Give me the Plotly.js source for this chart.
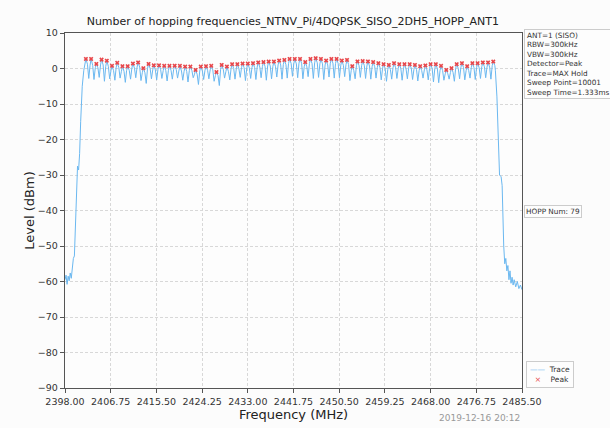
<!DOCTYPE html>
<html>
<head>
<meta charset="utf-8">
<script src="https://cdn.plot.ly/plotly-3.0.1.min.js"></script>
<style>html,body{margin:0;padding:0;background:#fcfcfc;}#chart{width:610px;height:428px;}</style>
</head>
<body>
<div id="chart"></div>
<script>
// ---- data ----
const peakFreq = [2402,2403,2404,2405,2406,2407,2408,2409,2410,2411,2412,2413,2414,2415,2416,2417,2418,2419,2420,
  2421,2422,2423,2424,2425,2426,2427,2428,2429,2430,2431,2432,2433,2434,2435,2436,2437,2438,2439,2440,
  2441,2442,2443,2444,2445,2446,2447,2448,2449,2450,2451,2452,2453,2454,2455,2456,2457,2458,2459,2460,2461,
  2462,2463,2464,2465,2466,2467,2468,2469,2470,2471,2472,2473,2474,2475,2476,2477,2478,2479,2480];
const peakLevel = [2.7,2.7,1.3,2.5,2.2,0.75,1.6,0.65,0.65,1.4,1.7,0.1,1.3,0.9,0.9,0.75,0.75,0.8,0.75,
  0.55,0.55,-0.4,0.55,0.65,0.75,-1.0,1.0,0.55,1.2,1.2,1.4,1.4,1.5,1.7,1.8,1.95,1.95,2.25,2.4,
  2.7,2.7,2.7,1.8,2.7,2.9,2.7,2.25,2.7,2.7,2.25,2.4,0.65,2.0,2.1,2.0,1.8,1.5,1.2,1.0,1.5,
  1.2,1.2,1.2,1.0,0.65,0.85,1.2,1.2,0.75,-0.4,0.1,1.2,1.5,0.65,1.5,1.5,1.7,1.7,1.95];
// secondary hump just after each peak
const shoulderLevel = [1.2,0.9,0.2,1.0,0.6,-0.6,0.3,-0.8,-0.5,0.1,0.4,-1.2,0.0,-0.4,-0.2,-0.6,-0.5,-0.3,-0.7,
  -0.8,-0.6,-1.6,-0.7,-0.5,-0.4,-2.0,-0.2,-0.9,0.0,-0.1,0.2,0.1,0.3,0.4,0.6,0.7,0.6,1.0,1.1,
  1.4,1.3,1.5,0.5,1.4,1.6,1.3,1.0,1.5,1.4,0.9,1.1,-0.6,0.8,0.9,0.7,0.5,0.3,0.0,-0.3,0.2,
  0.0,-0.1,0.1,-0.3,-0.6,-0.4,0.0,-0.1,-0.6,-1.5,-1.1,0.0,0.3,-0.6,0.3,0.2,0.5,0.4,0.8];
// dips between neighbouring channels
const valleyLevel = [-2.8,-3.1,-2.5,-3.6,-2.9,-3.3,-2.7,-3.9,-3.0,-2.6,-3.4,-4.2,-2.9,-3.2,-2.8,-3.5,-3.0,-2.7,-3.3,-3.8,
  -2.6,-4.5,-3.1,-2.9,-3.6,-4.8,-2.7,-3.2,-3.0,-2.5,-3.4,-2.8,-3.1,-2.6,-3.3,-2.9,-2.4,-3.0,-2.7,-2.2,
  -2.6,-2.9,-2.3,-2.8,-2.5,-3.1,-2.4,-2.7,-2.6,-2.3,-3.4,-2.9,-2.5,-2.8,-3.0,-2.7,-3.2,-3.6,-3.0,-2.8,
  -3.3,-2.9,-3.1,-3.5,-2.7,-3.2,-3.8,-4.0,-3.3,-3.0,-3.6,-2.9,-3.2,-2.7,-3.1,-2.8,-2.6,-3.0];
const leftEdgeFreq = [2398.0,2398.2,2398.4,2398.6,2398.8,2399.0,2399.2,2399.4,2399.6,2399.8,2400.0,2400.2,2400.4,2400.6,2400.8,2401.0,2401.3,2401.6];
const leftEdgeLevel = [-59.5,-58.2,-60.8,-58.5,-59.8,-57.6,-59.1,-56.0,-53.5,-52.8,-44.0,-30.0,-27.5,-28.6,-24.0,-15.0,-5.0,-0.5];
const rightEdgeFreq = [2480.4,2480.7,2481.0,2481.2,2481.5,2481.7,2482.0,2482.2,2482.4,2482.6,2482.8,2483.0,2483.2,2483.4,2483.6,2483.8,2484.0,2484.3,2484.6,2484.9,2485.2,2485.5];
const rightEdgeLevel = [-0.5,-8.0,-24.0,-30.0,-30.5,-33.0,-50.0,-55.0,-53.5,-57.0,-55.5,-59.5,-57.0,-60.5,-58.8,-61.0,-59.5,-61.5,-60.0,-62.0,-61.0,-62.3];
const xTickVals = [2398.00,2406.75,2415.50,2424.25,2433.00,2441.75,2450.50,2459.25,2468.00,2476.75,2485.50];
const xTickText = ["2398.00","2406.75","2415.50","2424.25","2433.00","2441.75","2450.50","2459.25","2468.00","2476.75","2485.50"];
const infoLines = ["ANT=1 (SISO)","RBW=300kHz","VBW=300kHz","Detector=Peak","Trace=MAX Hold","Sweep Point=10001","Sweep Time=1.333ms"];
const hoppText = "HOPP Num: 79";
const stamp = "2019-12-16 20:12";
const seriesNames = ["Trace", "Peak"];

// ---- assemble trace from the read values ----
const tx = [...leftEdgeFreq], ty = [...leftEdgeLevel];
for (let i = 0; i < peakFreq.length; i++) {
  tx.push(peakFreq[i]); ty.push(peakLevel[i]);
  tx.push(peakFreq[i] + 0.3); ty.push(shoulderLevel[i]);
  if (i < valleyLevel.length && i < peakFreq.length - 1) {
    tx.push(peakFreq[i] + 0.55); ty.push(valleyLevel[i]);
    tx.push(peakFreq[i] + 0.8); ty.push(shoulderLevel[i + 1]);
  }
}
tx.push(...rightEdgeFreq); ty.push(...rightEdgeLevel);

const traceColor = '#6bb8f0', peakColor = '#e8474b';
const font = "DejaVu Sans, Liberation Sans, sans-serif";
const data = [
  {x: tx, y: ty, type: 'scatter', mode: 'lines', name: seriesNames[0],
   line: {color: traceColor, width: 1}, showlegend: false},
  {x: peakFreq, y: peakLevel, type: 'scatter', mode: 'markers', name: seriesNames[1],
   marker: {symbol: 'x', size: 4, color: peakColor}, showlegend: false}
];
const nb = '\u00a0';
const legendText =
  '<span style="color:' + traceColor + '">——</span>' + nb + nb + seriesNames[0] + '<br>' +
  nb + nb + '<span style="color:' + peakColor + '">×</span>' + nb + nb + nb + nb + seriesNames[1];
const layout = {
  width: 610, height: 428,
  margin: {l: 65, r: 88, t: 33, b: 40},
  paper_bgcolor: '#fcfcfc', plot_bgcolor: '#fdfdfd',
  font: {family: font, size: 9, color: '#333'},
  title: {text: 'Number of hopping frequencies_NTNV_Pi/4DQPSK_SISO_2DH5_HOPP_ANT1',
          font: {size: 11, color: '#222'}, x: 0.48, xanchor: 'center', y: 0.95, yanchor: 'middle'},
  xaxis: {range: [2398, 2485.5], tickmode: 'array', tickvals: xTickVals, ticktext: xTickText,
          showline: true, mirror: true, linecolor: '#555', linewidth: 1.2,
          ticks: 'outside', ticklen: 4, tickcolor: '#555',
          showgrid: true, gridcolor: '#d8d8d8', griddash: '3px,2px', zeroline: false,
          tickfont: {size: 9.5, color: '#333'},
          title: {text: 'Frequency (MHz)', font: {size: 13, color: '#222'}, standoff: 4}},
  yaxis: {range: [-90, 10], dtick: 10, tick0: 0,
          showline: true, mirror: true, linecolor: '#555', linewidth: 1.2,
          ticks: 'outside', ticklen: 4, tickcolor: '#555',
          showgrid: true, gridcolor: '#d8d8d8', griddash: '3px,2px', zeroline: false,
          tickfont: {size: 9.5, color: '#333'},
          title: {text: 'Level (dBm)', font: {size: 13, color: '#222'}, standoff: 0}},
  showlegend: false,
  annotations: [
    {xref: 'paper', yref: 'paper', x: 1.005, y: 1.01, xanchor: 'left', yanchor: 'top', align: 'left',
     text: infoLines.join('<br>'), showarrow: false, font: {size: 7.3, color: '#333'},
     bgcolor: '#fdfdfd', bordercolor: '#ccc', borderwidth: 1, borderpad: 1},
    {xref: 'paper', yref: 'paper', x: 1.005, y: 0.497, xanchor: 'left', yanchor: 'middle', align: 'left',
     text: hoppText, showarrow: false, font: {size: 7.3, color: '#333'},
     bgcolor: '#fdfdfd', bordercolor: '#ccc', borderwidth: 1, borderpad: 1},
    {xref: 'paper', yref: 'paper', x: 1.008, y: 0.0, xanchor: 'left', yanchor: 'bottom', align: 'left',
     text: legendText, showarrow: false, font: {size: 7.5, color: '#333'},
     bgcolor: '#fdfdfd', bordercolor: '#ccc', borderwidth: 1, borderpad: 3},
    {xref: 'paper', yref: 'paper', x: 1.0, y: -0.085, xanchor: 'right', yanchor: 'middle',
     text: stamp, showarrow: false, font: {size: 9, color: '#999'}}
  ]
};
Plotly.newPlot('chart', data, layout, {displayModeBar: false, staticPlot: true});
</script>
</body>
</html>
